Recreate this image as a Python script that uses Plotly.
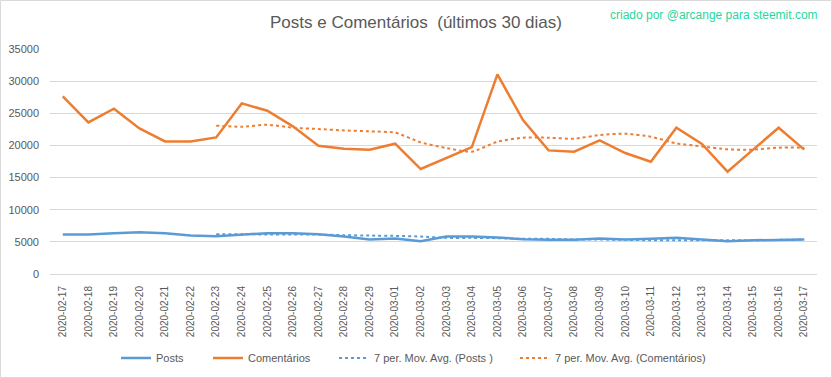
import plotly.graph_objects as go

dates = ["2020-02-17", "2020-02-18", "2020-02-19", "2020-02-20", "2020-02-21", "2020-02-22",
         "2020-02-23", "2020-02-24", "2020-02-25", "2020-02-26", "2020-02-27", "2020-02-28",
         "2020-02-29", "2020-03-01", "2020-03-02", "2020-03-03", "2020-03-04", "2020-03-05",
         "2020-03-06", "2020-03-07", "2020-03-08", "2020-03-09", "2020-03-10", "2020-03-11",
         "2020-03-12", "2020-03-13", "2020-03-14", "2020-03-15", "2020-03-16", "2020-03-17"]

posts = [6140, 6140, 6350, 6500, 6350, 5980, 5880, 6090, 6350, 6350,
         6190, 5830, 5360, 5520, 5100, 5830, 5830, 5670, 5410, 5310,
         5310, 5520, 5360, 5470, 5620, 5360, 5100, 5250, 5360, 5360]

comentarios = [27630, 23590, 25710, 22650, 20630, 20630, 21250, 26540, 25400, 22970,
               19960, 19490, 19340, 20270, 16330, 18040, 19750, 31050, 23950, 19230,
               19030, 20790, 18820, 17470, 22760, 20220, 15920, 19340, 22760, 19340]

ma_posts = [None, None, None, None, None, None, 6190, 6190, 6140, 6140,
            6140, 6040, 5980, 5930, 5830, 5620, 5620, 5570, 5470, 5470,
            5360, 5360, 5310, 5250, 5250, 5250, 5250, 5250, 5310, 5360]

ma_comentarios = [None, None, None, None, None, None, 23070, 22910, 23220, 22760,
                  22550, 22340, 22190, 21980, 20480, 19600, 19030, 20580, 21200, 21200,
                  21050, 21620, 21820, 21360, 20320, 19850, 19390, 19340, 19650, 19650]

y_ticks = [0, 5000, 10000, 15000, 20000, 25000, 30000, 35000]

BLUE = "#5b9bd5"
ORANGE = "#ed7d31"
GRAY_TXT = "#595959"
GRID = "#d9d9d9"

# plot area in pixels
L, R, T, B = 50, 817, 49, 274
PW, PH = R - L, B - T


def px_x(p):
    return (p - L) / PW


def px_y(p):
    return (B - p) / PH


fig = go.Figure()
fig.add_trace(go.Scatter(x=dates, y=posts, name="Posts", mode="lines", legend="legend",
                         line=dict(color=BLUE, width=2.5)))
fig.add_trace(go.Scatter(x=dates, y=comentarios, name="Comentários", mode="lines", legend="legend2",
                         line=dict(color=ORANGE, width=2.5)))
fig.add_trace(go.Scatter(x=dates, y=ma_posts, name="7 per. Mov. Avg. (Posts )", mode="lines",
                         legend="legend3",
                         line=dict(color=BLUE, width=2, dash="dot", shape="spline", smoothing=0.6)))
fig.add_trace(go.Scatter(x=dates, y=ma_comentarios, name="7 per. Mov. Avg. (Comentários)", mode="lines",
                         legend="legend4",
                         line=dict(color=ORANGE, width=2, dash="dot", shape="spline", smoothing=0.6)))

LEG_Y = px_y(358)


def leg(xpix):
    return dict(orientation="h", x=px_x(xpix), xanchor="left", y=LEG_Y, yanchor="middle",
                font=dict(size=11, color=GRAY_TXT), itemwidth=30, bgcolor="rgba(0,0,0,0)")


fig.update_layout(
    width=832, height=378,
    margin=dict(l=L, r=832 - R, t=T, b=378 - B, autoexpand=False),
    paper_bgcolor="white", plot_bgcolor="white",
    font=dict(family="Liberation Sans, Arial, sans-serif", color=GRAY_TXT, size=11),
    title=dict(text="Posts e Comentários  (últimos 30 dias)", x=0.5, xanchor="center",
               y=1 - 22 / 378, yanchor="middle", font=dict(size=17, color=GRAY_TXT)),
    showlegend=True,
    legend=leg(116),
    legend2=leg(208),
    legend3=leg(334),
    legend4=leg(515),
    xaxis=dict(type="category", range=[-0.5, 29.5], tickangle=-90, showgrid=False,
               showline=False, ticks="", tickfont=dict(size=10, color=GRAY_TXT), fixedrange=True,
               automargin=False, ticklabelstandoff=9),
    yaxis=dict(range=[0, 35000], tickvals=y_ticks, ticktext=[str(v) for v in y_ticks],
               showgrid=True, gridcolor=GRID, gridwidth=1, zeroline=True, zerolinecolor=GRID,
               zerolinewidth=1, showline=False, ticks="", tickfont=dict(size=11, color=GRAY_TXT),
               fixedrange=True, automargin=False, ticklabelstandoff=10),
    annotations=[dict(text="criado por @arcange para steemit.com", xref="paper", yref="paper",
                      x=px_x(820), xanchor="right", y=px_y(15), yanchor="middle",
                      showarrow=False, font=dict(size=12, color="#1fd7a0"))],
    shapes=[dict(type="rect", xref="paper", yref="paper",
                 x0=px_x(0.5), x1=px_x(831.5),
                 y0=px_y(377.5), y1=px_y(0.5),
                 line=dict(color=GRID, width=1), fillcolor="rgba(0,0,0,0)", layer="below")],
)

fig.write_html("out.html", config={"displayModeBar": False},
               post_script="document.body.style.margin='0';")
